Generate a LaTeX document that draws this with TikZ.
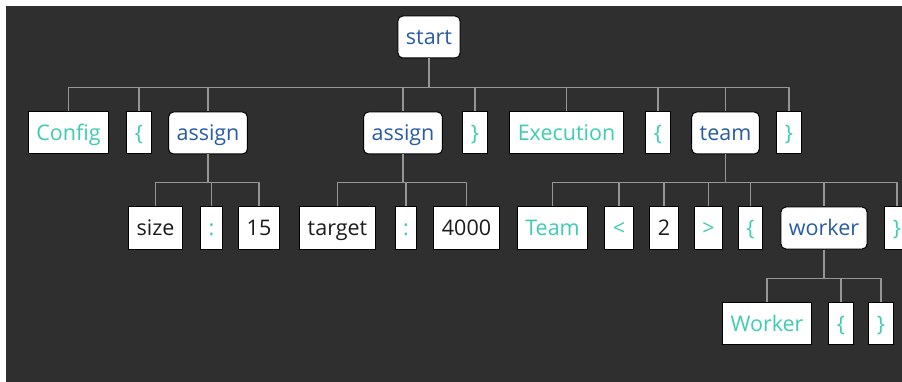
\documentclass[tikz,border=0pt]{standalone}
\usepackage{fontspec}
\setmainfont{Open Sans}
\definecolor{bgdark}{RGB}{47,47,47}
\definecolor{linkgray}{RGB}{150,150,150}
\definecolor{kwteal}{RGB}{62,204,178}
\definecolor{ruleblue}{RGB}{40,92,164}
\definecolor{valink}{RGB}{28,28,28}
\tikzset{
  box/.style={draw=black, fill=white, line width=1pt, minimum height=42pt, inner xsep=8pt, inner ysep=0pt,
    text height=18pt, text depth=3pt, font=\fontsize{21.5}{24}\selectfont},
  kw/.style={box, text=kwteal},
  val/.style={box, text=valink},
  rule/.style={box, text=ruleblue, rounded corners=5pt},
  link/.style={draw=linkgray, line width=1.2pt}
}
\begin{document}
\begin{tikzpicture}[x=1pt, y=1pt, line join=round]
  \useasboundingbox (0,0) rectangle (902,-382);
  \fill[bgdark] (6,-6) rectangle (902,-382);

  % rule nodes
  \foreach \n/\x/\y/\t in {start/429/37/start, asA/208/133/assign, asB/403/133/assign,
                           tm/725.5/133/team, wk/824/228/worker}
    \node[rule] (\n) at (\x,-\y) {\t};

  % keywords and symbols
  \foreach \n/\x/\y/\t in {cfg/68.5/133/Config, lbA/139/133/\{, rbA/475/133/\}, exe/566.5/133/Execution,
                           lbB/658/133/\{, rbB/789/133/\}, clA/211.5/228/:, clB/406/228/:,
                           tmk/552.5/228/Team, lt/619/228/<, gt/708.5/228/>, lbC/750.5/228/\{,
                           rbC/897/228/\}, wkk/767/323.5/Worker, lbD/841/323.5/\{, rbD/881/323.5/\}}
    \node[kw] (\n) at (\x,-\y) {\t};

  % values
  \foreach \n/\x/\y/\t in {size/155.5/228/size, fif/259/228/15, tgt/337.5/228/target,
                           four/466.5/228/4000, two/664/228/2}
    \node[val] (\n) at (\x,-\y) {\t};

  % connectors
  \foreach \c in {cfg,lbA,asA,asB,rbA,exe,lbB,tm,rbB}
    \draw[link] (start.south) -- ++(0,-29) -| (\c.north);
  \foreach \c in {size,clA,fif}
    \draw[link] (asA.south) -- ++(0,-28) -| (\c.north);
  \foreach \c in {tgt,clB,four}
    \draw[link] (asB.south) -- ++(0,-28) -| (\c.north);
  \foreach \c in {tmk,lt,two,gt,lbC,wk,rbC}
    \draw[link] (tm.south) -- ++(0,-28) -| (\c.north);
  \foreach \c in {wkk,lbD,rbD}
    \draw[link] (wk.south) -- ++(0,-29) -| (\c.north);
\end{tikzpicture}
\end{document}
